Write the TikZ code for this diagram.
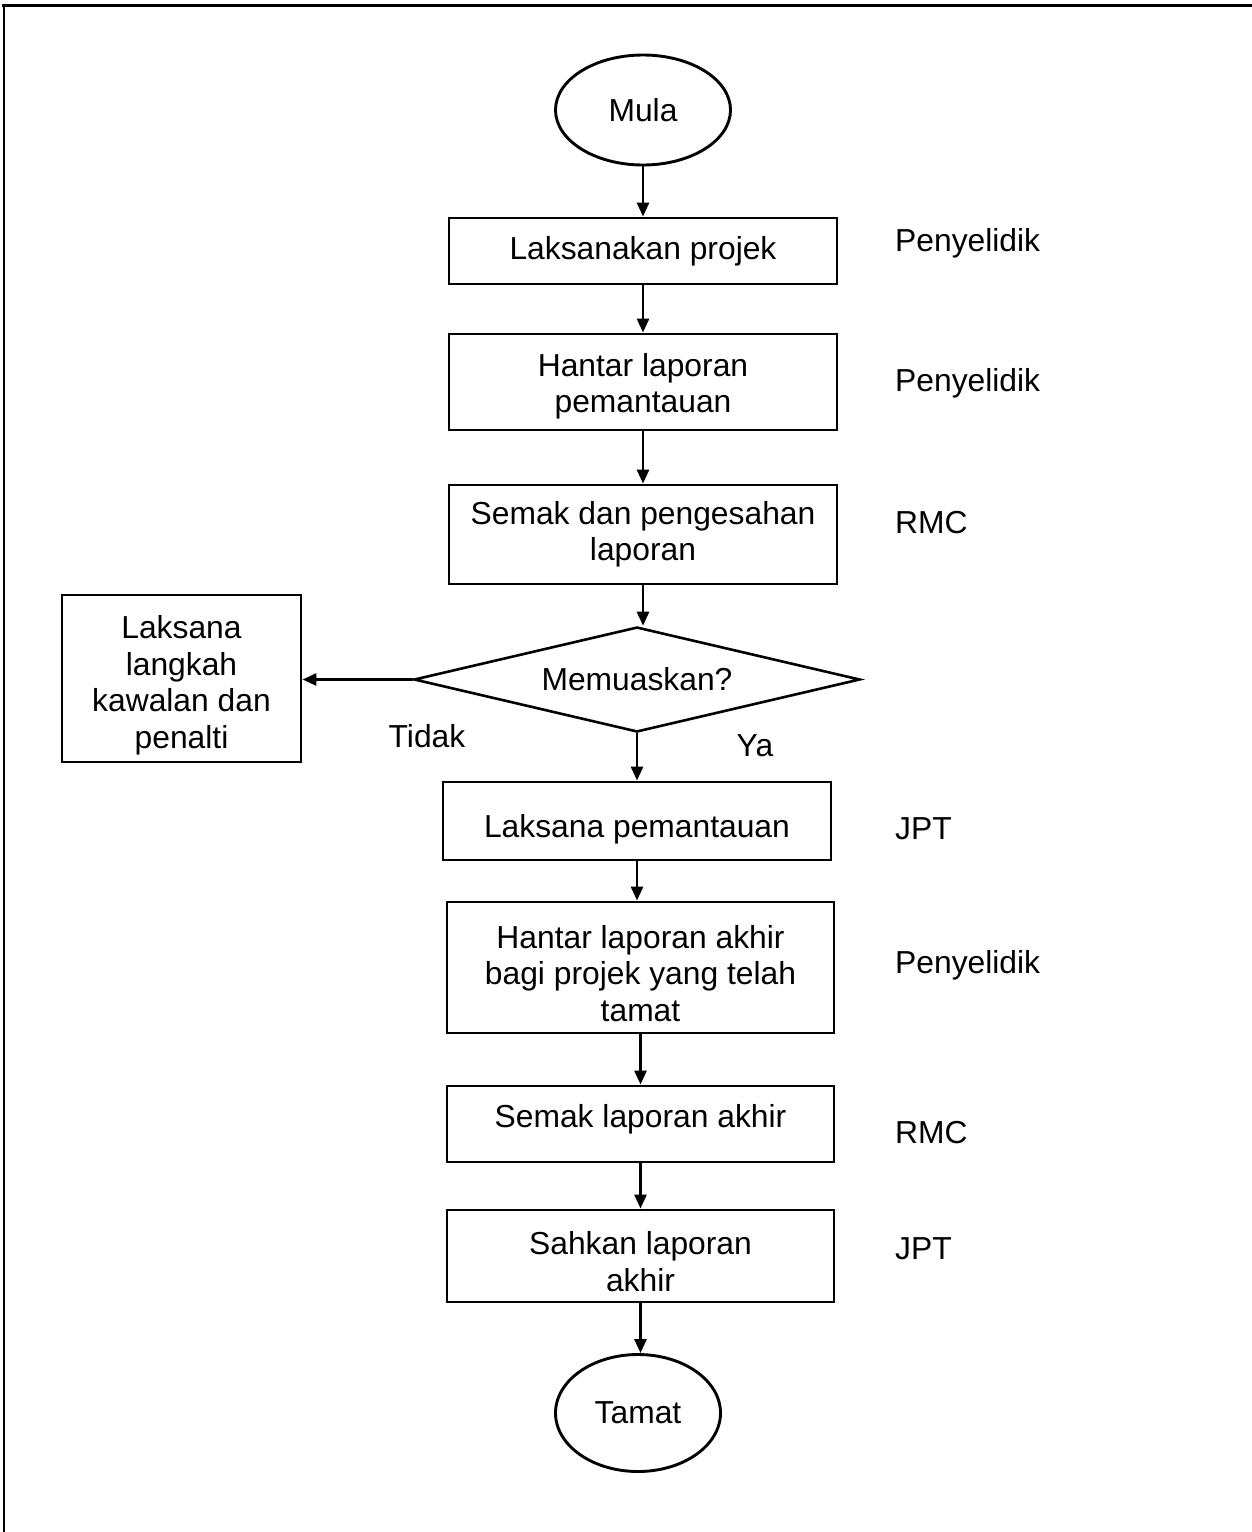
\documentclass[tikz,border=0pt]{standalone}
\usepackage{fontspec}
\setmainfont{Liberation Sans}
\usetikzlibrary{shapes.geometric,arrows.meta}
\begin{document}
\begin{tikzpicture}[x=1pt,y=-1pt,
  every node/.style={font=\fontsize{31.8}{36.5}\selectfont, inner sep=0pt},
  box/.style={draw, line width=2.9pt, rectangle, align=center, minimum width=388pt},
  term/.style={draw, line width=2.9pt, ellipse},
  dec/.style={draw, line width=2.6pt, diamond, aspect=4.25, minimum width=446pt, minimum height=105pt},
  arr/.style={line width=2.8pt, -{Triangle[length=14pt,width=12pt]}},
  role/.style={anchor=base west},
]
\useasboundingbox (0,0) rectangle (1252,1532);
% frame
\draw[line width=3pt] (1252,5.5) -- (2,5.5);
\draw[line width=2pt] (3.5,4) -- (3.5,1532);

% flow nodes
\node[term, minimum width=175pt, minimum height=110pt] (start) at (643,110) {Mula};
\node[box, minimum height=66pt] (b1) at (643,251) {Laksanakan projek};
\node[box, minimum height=96pt] (b2) at (643,382) {\rule{0pt}{32pt}Hantar laporan\\pemantauan};
\node[box, minimum height=99pt] (b3) at (643,534.5) {Semak dan pengesahan\\laporan};
\node[dec] (d) at (637,679.5) {Memuaskan?};
\node[box, minimum width=239pt, minimum height=167pt] (b4) at (181.5,678.5) {\rule{0pt}{37pt}Laksana\\langkah\\kawalan dan\\penalti};
\node[box, minimum height=78pt, text height=39pt, text depth=7pt] (b5) at (637,821) {Laksana pemantauan};
\node[box, minimum width=387pt, minimum height=131pt] (b6) at (640.5,967.5) {\rule{0pt}{35pt}Hantar laporan akhir\\bagi projek yang telah\\tamat};
\node[box, minimum width=387pt, minimum height=76pt, text height=23.2pt, text depth=16.2pt] (b7) at (640.5,1124) {Semak laporan akhir};
\node[box, minimum width=387pt, minimum height=92pt] (b8) at (640.5,1256) {\rule{0pt}{34pt}Sahkan laporan\\akhir};
\node[term, minimum width=165pt, minimum height=117pt] (end) at (638,1413) {Tamat};

% decision labels
\node (no) at (427,736) {Tidak};
\node (yes) at (755,746) {Ya};

% roles
\node[role] (r1) at (895,251) {Penyelidik};
\node[role] (r2) at (895,391) {Penyelidik};
\node[role] (r3) at (895,533) {RMC};
\node[role] (r5) at (895,839) {JPT};
\node[role] (r6) at (895,973) {Penyelidik};
\node[role] (r7) at (895,1143) {RMC};
\node[role] (r8) at (895,1259) {JPT};

% connectors
\draw[arr] (start.south) -- (start.south |- b1.north);
\draw[arr] (b1.south) -- (b1.south |- b2.north);
\draw[arr] (b2.south) -- (b2.south |- b3.north);
\draw[arr] (b3.south) -- (b3.south |- d.north);
\draw[arr] (d.west) -- (d.west -| b4.east);
\draw[arr] (d.south) -- (d.south |- b5.north);
\draw[arr] (b5.south) -- (b5.south |- b6.north);
\draw[arr] (b6.south) -- (b6.south |- b7.north);
\draw[arr] (b7.south) -- (b7.south |- b8.north);
\draw[arr] (b8.south) -- (b8.south |- end.north);
\end{tikzpicture}
\end{document}
